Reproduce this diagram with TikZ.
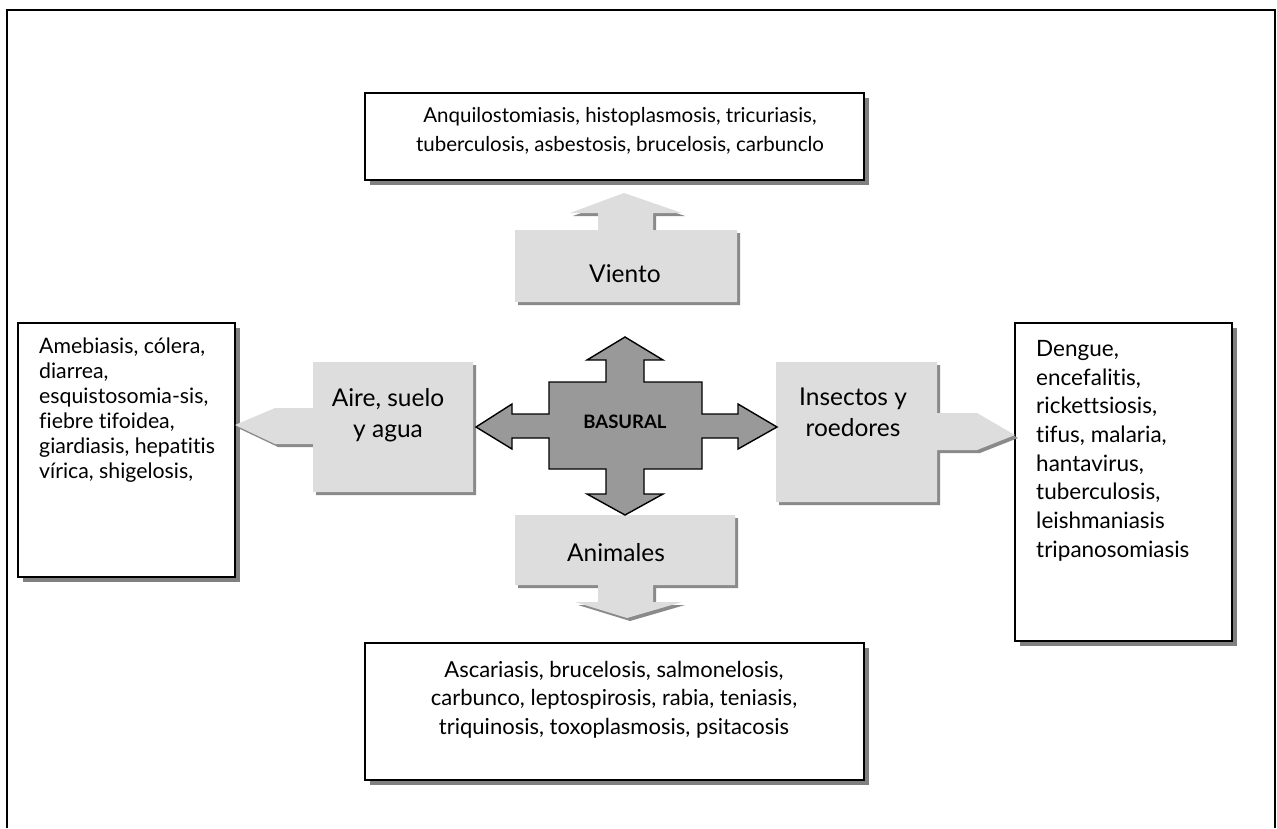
\documentclass[tikz,border=0pt]{standalone}
\usepackage{fontspec}
\setmainfont{Lato}[Ligatures=NoCommon]
\definecolor{tabfill}{HTML}{DDDDDD}
\definecolor{tabshade}{HTML}{8A8A8A}
\definecolor{hubfill}{HTML}{999999}
\definecolor{boxshade}{HTML}{808080}

% outlines of the grey tabs (box + pointer) and of the central cross
\newcommand\tabviento{(515,230) -- (598,230) -- (598,213) -- (570,213) -- (624,193) -- (682,213) -- (653,213) -- (653,230) -- (737,230) -- (737,302) -- (515,302) -- cycle}
\newcommand\tabaire{(313,362) -- (473,362) -- (473,492) -- (313,492) -- (313,444) -- (275,444) -- (235,425) -- (275,408) -- (313,408) -- cycle}
\newcommand\tabinsect{(776,362) -- (937,362) -- (937,413) -- (977,413) -- (1015,435) -- (977,450) -- (937,450) -- (937,502) -- (776,502) -- cycle}
\newcommand\tabanimal{(515,515) -- (735,515) -- (735,585) -- (653,585) -- (653,602) -- (682,602) -- (627,618) -- (575,602) -- (598,602) -- (598,585) -- (515,585) -- cycle}

\begin{document}
\begin{tikzpicture}[x=1pt,y=-1pt,
  outerframe/.style={line width=2pt},
  listbox/.style={draw=black,line width=1.8pt,fill=white},
  listshadow/.style={fill=boxshade},
  tab/.style={fill=tabfill},
  tabshadow/.style={fill=tabshade},
  hub/.style={fill=hubfill,draw=black,line width=1.4pt,line join=miter},
  listtext/.style={inner sep=0pt,text=black},
  tablabel/.style={inner sep=0pt,align=center,font=\fontsize{24.5}{31}\selectfont},
]
\useasboundingbox (0,0) rectangle (1277,828);

% open frame around the figure
\draw[outerframe] (7,828) -- (7,10) -- (1275,10) -- (1275,828);

% ---------- disease lists ----------
\fill[listshadow] (370,98) rectangle (869,185);
\draw[listbox] (365,93) rectangle (864,180);
\node[listtext,anchor=north,align=center,font=\fontsize{20.5}{29}\selectfont] (listwind) at (620,107)
  {Anquilostomiasis, histoplasmosis, tricuriasis,\\tuberculosis, asbestosis, brucelosis, carbunclo};

\fill[listshadow] (23,328) rectangle (240,582);
\draw[listbox] (18,323) rectangle (235,577);
\node[listtext,anchor=north west,align=left,font=\fontsize{21.3}{25}\selectfont] (listwater) at (39,338)
  {Amebiasis, cólera,\\diarrea,\\esquistosomia-sis,\\fiebre tifoidea,\\giardiasis, hepatitis\\vírica, shigelosis,};

\fill[listshadow] (1020,328) rectangle (1237,646);
\draw[listbox] (1015,323) rectangle (1232,641);
\node[listtext,anchor=north west,align=left,font=\fontsize{22.5}{28.7}\selectfont] (listinsect) at (1036,340)
  {Dengue,\\encefalitis,\\rickettsiosis,\\tifus, malaria,\\hantavirus,\\tuberculosis,\\leishmaniasis\\tripanosomiasis};

\fill[listshadow] (370,648) rectangle (869,785);
\draw[listbox] (365,643) rectangle (864,780);
\node[listtext,anchor=north,align=center,font=\fontsize{22}{28.3}\selectfont] (listanimal) at (614,661)
  {Ascariasis, brucelosis, salmonelosis,\\carbunco, leptospirosis, rabia, teniasis,\\triquinosis, toxoplasmosis, psitacosis};

% ---------- grey transmission tabs ----------
\fill[tabshadow,shift={(3,3)}] \tabviento;
\fill[tab] \tabviento;
\node[tablabel,anchor=base] (viento) at (625,282) {Viento};

\fill[tabshadow,shift={(3,3)}] \tabaire;
\fill[tab] \tabaire;
\node[tablabel,anchor=north] (aire) at (388,388) {Aire, suelo\\y agua};

\fill[tabshadow,shift={(3,3)}] \tabinsect;
\fill[tab] \tabinsect;
\node[tablabel,anchor=north] (insect) at (853,388) {Insectos y\\roedores};

\fill[tabshadow,shift={(3,3)}] \tabanimal;
\fill[tab] \tabanimal;
\node[tablabel,anchor=base] (animal) at (616,561) {Animales};

% ---------- central four-way arrow ----------
\draw[hub] (625,337) -- (663,360) -- (644,360) -- (644,382) -- (702,382) -- (702,414)
  -- (738,414) -- (738,404) -- (777,427) -- (738,449) -- (738,438) -- (702,438)
  -- (702,469) -- (644,469) -- (644,494) -- (663,494) -- (625,515) -- (587,494)
  -- (606,494) -- (606,469) -- (549,469) -- (549,438) -- (512,438) -- (512,449)
  -- (476,427) -- (512,404) -- (512,414) -- (549,414) -- (549,382) -- (606,382)
  -- (606,360) -- (587,360) -- cycle;
\node[inner sep=0pt,anchor=base,font=\fontsize{18.5}{20}\selectfont\bfseries] (hub) at (625,428) {BASURAL};
\end{tikzpicture}
\end{document}
